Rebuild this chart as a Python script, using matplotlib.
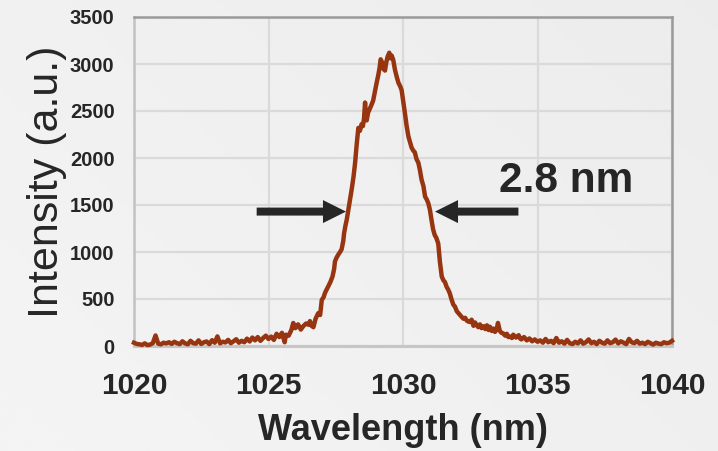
import numpy as np
import matplotlib
matplotlib.use("Agg")
import matplotlib.pyplot as plt
from matplotlib.patches import FancyArrow

plt.rcParams['font.family'] = ['Liberation Sans', 'DejaVu Sans']

# Measured emission spectrum
wavelength = [
    1020.0, 1020.1, 1020.2, 1020.3, 1020.4, 1020.5, 1020.6, 1020.7, 1020.8, 1020.9,
    1021.0, 1021.1, 1021.2, 1021.3, 1021.4, 1021.5, 1021.6, 1021.7, 1021.8, 1021.9,
    1022.0, 1022.1, 1022.2, 1022.3, 1022.4, 1022.5, 1022.6, 1022.7, 1022.8, 1022.9,
    1023.0, 1023.1, 1023.2, 1023.3, 1023.4, 1023.5, 1023.6, 1023.7, 1023.8, 1023.9,
    1024.0, 1024.1, 1024.2, 1024.3, 1024.4, 1024.5, 1024.6, 1024.7, 1024.8, 1024.9,
    1025.0, 1025.1, 1025.2, 1025.3, 1025.4, 1025.5, 1025.6, 1025.65, 1025.75, 1025.85,
    1025.92, 1026.0, 1026.1, 1026.2, 1026.29, 1026.4, 1026.5, 1026.54, 1026.6, 1026.67,
    1026.75, 1026.85, 1026.92, 1026.98, 1027.05, 1027.10, 1027.16, 1027.22, 1027.3, 1027.38,
    1027.44, 1027.47, 1027.53, 1027.59, 1027.66, 1027.72, 1027.78, 1027.81, 1027.86, 1027.91,
    1027.97, 1028.03, 1028.10, 1028.16, 1028.22, 1028.28, 1028.34, 1028.40, 1028.46, 1028.51,
    1028.55, 1028.59, 1028.62, 1028.65, 1028.70, 1028.76, 1028.82, 1028.89, 1028.95, 1029.02,
    1029.08, 1029.13, 1029.17, 1029.22, 1029.27, 1029.33, 1029.38, 1029.43, 1029.49, 1029.53,
    1029.58, 1029.64, 1029.70, 1029.77, 1029.83, 1029.90, 1029.95, 1030.00, 1030.07, 1030.13,
    1030.20, 1030.26, 1030.32, 1030.38, 1030.44, 1030.50, 1030.57, 1030.63, 1030.69, 1030.76,
    1030.82, 1030.88, 1030.94, 1031.00, 1031.06, 1031.12, 1031.18, 1031.24, 1031.31, 1031.37,
    1031.44, 1031.50, 1031.56, 1031.62, 1031.68, 1031.74, 1031.80, 1031.87, 1031.93, 1032.00,
    1032.06, 1032.12, 1032.18, 1032.25, 1032.31, 1032.37, 1032.43, 1032.49, 1032.55, 1032.62,
    1032.68, 1032.74, 1032.80, 1032.86, 1032.92, 1033.00, 1033.06, 1033.12, 1033.18, 1033.23,
    1033.30, 1033.36, 1033.42, 1033.48, 1033.53, 1033.60, 1033.66, 1033.72, 1033.80, 1033.86,
    1033.92, 1033.98, 1034.05, 1034.1, 1034.2, 1034.3, 1034.35, 1034.4, 1034.5, 1034.6,
    1034.7, 1034.8, 1034.9, 1035.0, 1035.1, 1035.2, 1035.3, 1035.4, 1035.5, 1035.6,
    1035.7, 1035.8, 1035.9, 1036.0, 1036.1, 1036.2, 1036.3, 1036.4, 1036.5, 1036.6,
    1036.7, 1036.8, 1036.9, 1037.0, 1037.1, 1037.2, 1037.3, 1037.4, 1037.5, 1037.6,
    1037.7, 1037.8, 1037.9, 1038.0, 1038.1, 1038.2, 1038.3, 1038.4, 1038.5, 1038.6,
    1038.7, 1038.8, 1038.9, 1039.0, 1039.1, 1039.2, 1039.3, 1039.4, 1039.5, 1039.6,
    1039.7, 1039.8, 1039.9, 1040.0,
]
intensity = [
    35, 22, 18, 12, 28, 10, 15, 30, 112, 25,
    18, 35, 28, 40, 22, 45, 30, 20, 50, 28,
    18, 55, 30, 25, 60, 22, 40, 48, 20, 62,
    35, 102, 28, 45, 38, 65, 30, 50, 72, 35,
    55, 40, 78, 48, 90, 60, 95, 55, 85, 110,
    75, 100, 65, 130, 95, 140, 40, 120, 110, 170,
    245, 190, 230, 175, 210, 240, 225, 265, 215, 200,
    290, 350, 330, 490, 520, 565, 600, 635, 680, 740,
    820, 900, 940, 970, 1000, 1030, 1120, 1200, 1280, 1345,
    1450, 1560, 1680, 1800, 1950, 2150, 2320, 2290, 2360, 2340,
    2420, 2590, 2450, 2400, 2480, 2520, 2560, 2610, 2700, 2800,
    2880, 2960, 3050, 3020, 2950, 2930, 3020, 3080, 3120, 3060,
    3090, 3040, 2940, 2860, 2800, 2760, 2720, 2620, 2480, 2350,
    2230, 2170, 2110, 2080, 2060, 1990, 1950, 1870, 1770, 1700,
    1590, 1560, 1520, 1450, 1340, 1240, 1180, 1150, 1090, 900,
    740, 700, 680, 630, 600, 560, 500, 440, 420, 370,
    350, 330, 310, 290, 300, 270, 260, 255, 280, 215,
    250, 220, 200, 230, 190, 210, 180, 220, 170, 205,
    160, 185, 150, 175, 245, 160, 140, 135, 110, 130,
    95, 100, 85, 120, 90, 115, 80, 70, 95, 60,
    80, 50, 70, 45, 60, 35, 75, 40, 55, 30,
    85, 35, 50, 25, 65, 30, 20, 45, 28, 60,
    25, 40, 70, 30, 45, 20, 55, 35, 25, 60,
    30, 40, 68, 28, 50, 35, 20, 75, 40, 30,
    55, 25, 35, 20, 45, 30, 15, 35, 25, 20,
    40, 30, 35, 55,
]

x_ticks = [1020, 1025, 1030, 1035, 1040]
y_ticks = [0, 500, 1000, 1500, 2000, 2500, 3000, 3500]

width_label = "2.8 nm"
# Arrow levels and tips (nm, a.u.)
arrow_level = 1430
left_arrow = (1024.56, 1027.88)
right_arrow = (1034.29, 1031.19)

text_color = "#262626"
line_color = "#973511"

fig = plt.figure(figsize=(7.18, 4.51), dpi=100)

# Soft grey background gradient
bg = fig.add_axes([0, 0, 1, 1], zorder=-10)
gx, gy = np.meshgrid(np.linspace(0, 1, 200), np.linspace(0, 1, 200))
grad = 0.955 - 0.03 * (0.6 * gx + 0.4 * (1 - gy))
bg.imshow(grad, cmap="gray", vmin=0, vmax=1, aspect="auto",
          extent=[0, 1, 0, 1], origin="upper")
bg.axis("off")

ax = fig.add_axes([134 / 718, 1 - 346 / 451, (672 - 134) / 718, (346 - 17) / 451])
ax.patch.set_alpha(0)

ax.plot(wavelength, intensity, color=line_color, lw=3.2, solid_joinstyle="round",
        clip_on=False, zorder=3)

ax.set_xlim(1020, 1040)
ax.set_ylim(0, 3500)
ax.set_xticks(x_ticks)
ax.set_yticks(y_ticks)
ax.set_xticklabels([str(v) for v in x_ticks], fontsize=21.5, fontweight="bold",
                   color=text_color)
ax.set_yticklabels([str(v) for v in y_ticks], fontsize=14.5, fontweight="bold",
                   color=text_color)
ax.tick_params(axis="both", length=0)
ax.tick_params(axis="x", pad=19)
ax.tick_params(axis="y", pad=14)

ax.grid(True, color="#dadada", lw=1.6, zorder=0)
ax.set_axisbelow(True)

for side in ("top", "right"):
    ax.spines[side].set_color("#9a9a9a")
    ax.spines[side].set_linewidth(1.8)
ax.spines["left"].set_color("#c2c2c2")
ax.spines["left"].set_linewidth(1.8)
ax.spines["bottom"].set_color("#c6c6c6")
ax.spines["bottom"].set_linewidth(2.2)

ax.set_xlabel("Wavelength (nm)", fontsize=26, fontweight="bold", color=text_color,
              labelpad=9)
ax.set_ylabel("Intensity (a.u.)", fontsize=31, color=text_color, labelpad=2)

# FWHM arrows in data units
px_x = 20 / 538      # nm per pixel
px_y = 3500 / 329    # a.u. per pixel
for tail, tip in (left_arrow, right_arrow):
    head_len = 23 * px_x
    dx = tip - tail
    ax.add_patch(FancyArrow(tail, arrow_level, dx, 0, width=8 * px_y,
                            head_width=23 * px_y, head_length=head_len,
                            length_includes_head=True, color="#262626", lw=0,
                            zorder=4))

ax.text(1036.06, 1750, width_label, fontsize=30.5, fontweight="bold",
        color=text_color, ha="center", va="center")

fig.savefig("out.png", dpi=100)
